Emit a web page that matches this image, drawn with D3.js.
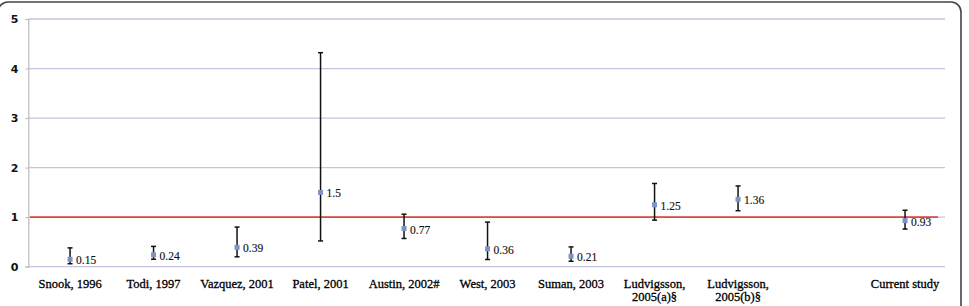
<!doctype html>
<html>
  <head>
    <script src="https://cdnjs.cloudflare.com/ajax/libs/d3/7.8.5/d3.min.js"></script>
    <style>
      body { margin: 0; background: #fff; }
    </style>
  </head>
  <body>
    <svg id="chart" width="969" height="306"></svg>
    <script>
        // studies, one blank slot before the current study
        var studies = ["Snook, 1996", "Todi, 1997", "Vazquez, 2001", "Patel, 2001", "Austin, 2002#",
                       "West, 2003", "Suman, 2003", "Ludvigsson, 2005(a)§", "Ludvigsson, 2005(b)§", "", "Current study"];
        var estimates = [0.15, 0.24, 0.39, 1.5, 0.77, 0.36, 0.21, 1.25, 1.36, null, 0.93];
        var lower = [0.06, 0.15, 0.20, 0.52, 0.57, 0.145, 0.11, 0.94, 1.13, null, 0.76];
        var upper = [0.38, 0.41, 0.80, 4.32, 1.06, 0.90, 0.40, 1.68, 1.63, null, 1.14];
        var labels = ["0.15", "0.24", "0.39", "1.5", "0.77", "0.36", "0.21", "1.25", "1.36", "", "0.93"];
        var yTicks = [0, 1, 2, 3, 4, 5];
        var refValue = 1;

        var svg = d3.select("#chart");

        // outer frame
        svg.append("rect")
            .attr("x", -2).attr("y", 2)
            .attr("width", 963).attr("height", 330)
            .attr("rx", 10)
            .attr("fill", "none")
            .attr("stroke", "#444")
            .attr("stroke-width", 1.6);

        var x = d3.scaleBand().domain(d3.range(studies.length)).range([28.3, 946.8]);
        var y = d3.scaleLinear().domain([0, 5]).range([266.7, 19]);

        // grid
        svg.append("g").selectAll("line")
            .data(yTicks)
            .enter().append("line")
                .attr("x1", 28.3).attr("x2", 945)
                .attr("y1", d => y(d)).attr("y2", d => y(d))
                .attr("stroke", "#c5c5df")
                .attr("stroke-width", 1.3);

        // y axis
        var yAxis = svg.append("g")
            .attr("transform", "translate(28.3,0)")
            .call(d3.axisLeft(y).tickValues(yTicks).tickSize(3).tickPadding(7).tickFormat(d3.format("d")));
        yAxis.select(".domain").attr("stroke", "#bbb").attr("stroke-width", 1.2);
        yAxis.selectAll(".tick line").attr("stroke", "#bbb");
        yAxis.selectAll(".tick text")
            .attr("font-family", "'DejaVu Sans', Verdana, sans-serif")
            .attr("font-weight", "bold")
            .attr("font-size", 11)
            .attr("fill", "#111");

        // reference line at 1
        svg.append("line")
            .attr("x1", 30).attr("x2", 938)
            .attr("y1", y(refValue)).attr("y2", y(refValue))
            .attr("stroke", "#e2463c")
            .attr("stroke-width", 1.8);

        // x labels
        var xl = svg.append("g").selectAll("text")
            .data(studies)
            .enter().append("text")
                .attr("x", (d, i) => x(i) + x.bandwidth() / 2)
                .attr("y", 287.5)
                .attr("text-anchor", "middle")
                .attr("font-family", "'Liberation Serif', 'Times New Roman', serif")
                .attr("font-size", 12.5)
                .attr("fill", "#000")
                .attr("stroke", "#000")
                .attr("stroke-width", 0.3);
        xl.each(function(d) {
            var t = d3.select(this);
            var m = d.match(/^(Ludvigsson,) (.*)$/);
            if (m) {
                t.append("tspan").attr("x", t.attr("x")).text(m[1]);
                t.append("tspan").attr("x", t.attr("x")).attr("dy", 13.5).text(m[2]);
            } else {
                t.text(d);
            }
        });

        var pts = d3.range(studies.length).filter(i => estimates[i] != null);
        var cx = i => x(i) + x.bandwidth() / 2;

        // error bars
        var eb = svg.append("g").attr("stroke", "#111").attr("stroke-width", 1.5);
        pts.forEach(function(i) {
            eb.append("line").attr("x1", cx(i)).attr("x2", cx(i)).attr("y1", y(lower[i])).attr("y2", y(upper[i]));
            eb.append("line").attr("x1", cx(i) - 2.5).attr("x2", cx(i) + 2.5).attr("y1", y(lower[i])).attr("y2", y(lower[i]));
            eb.append("line").attr("x1", cx(i) - 2.5).attr("x2", cx(i) + 2.5).attr("y1", y(upper[i])).attr("y2", y(upper[i]));
        });

        // points
        svg.append("g").selectAll("rect")
            .data(pts)
            .enter().append("rect")
                .attr("x", i => cx(i) - 2.5)
                .attr("y", i => y(estimates[i]) - 2.5)
                .attr("width", 5).attr("height", 5)
                .attr("fill", "#7d93c4");

        // value labels
        svg.append("g").selectAll("text")
            .data(pts)
            .enter().append("text")
                .attr("x", i => cx(i) + 6)
                .attr("y", i => y(estimates[i]) + 5)
                .attr("font-family", "'Liberation Serif', 'Times New Roman', serif")
                .attr("font-size", 11.5)
                .attr("fill", "#111")
                .attr("stroke", "#111")
                .attr("stroke-width", 0.15)
                .text(i => labels[i]);
    </script>
  </body>
</html>
